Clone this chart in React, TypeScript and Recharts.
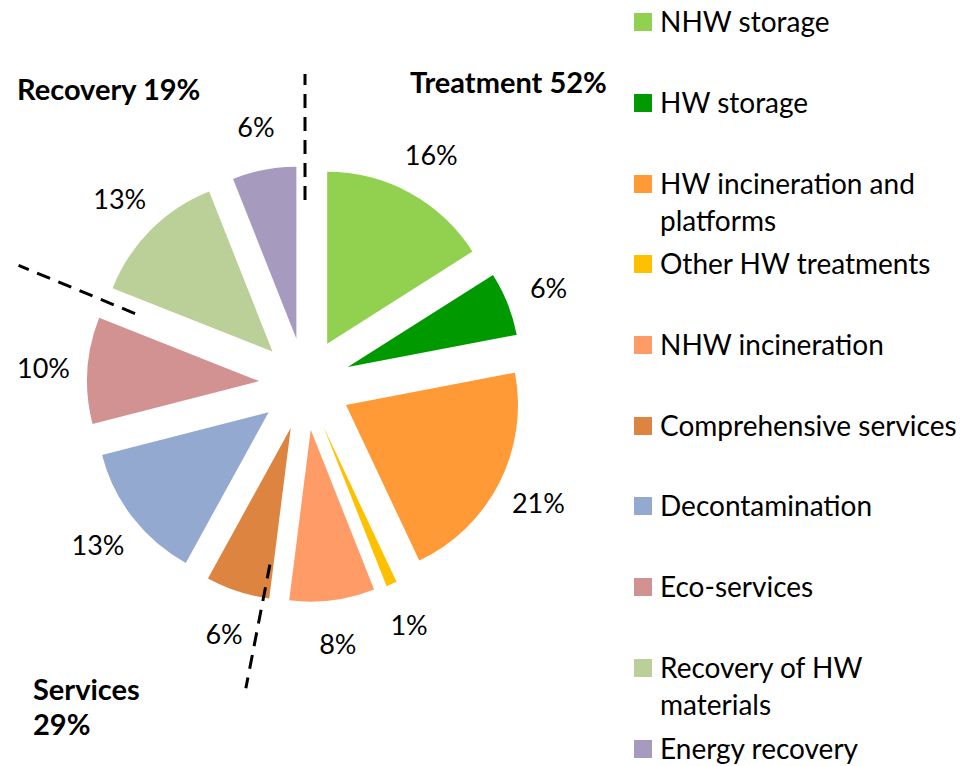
import { PieChart, Pie, Cell, Sector, Legend } from 'recharts'

const categories = [
  'NHW storage',
  'HW storage',
  'HW incineration and platforms',
  'Other HW treatments',
  'NHW incineration',
  'Comprehensive services',
  'Decontamination',
  'Eco-services',
  'Recovery of HW materials',
  'Energy recovery',
]
const shares = [16, 6, 21, 1, 8, 6, 13, 10, 13, 6]
const colors = [
  '#92D050', '#009A00', '#FF9A36', '#FFC000', '#FF9B66',
  '#DD8540', '#94A9CF', '#D29292', '#BBD098', '#A79ABF',
]

// groups of slices, by index of their first slice
const groupNames = ['Treatment', 'Services', 'Recovery']
const groupStarts = [0, 5, 8]
// the dashed separators were drawn by hand, slightly off the exact boundary
const separatorNudge = [0, -3.8, -0.9]

const data = categories.map((name, i) => ({ name, value: shares[i] }))

const FONT = 'Lato, "Noto Sans", sans-serif'
const RAD = Math.PI / 180
const EXPLODE = 46

function groupShare(g: number) {
  const end = g + 1 < groupStarts.length ? groupStarts[g + 1] : shares.length
  return shares.slice(groupStarts[g], end).reduce((a, b) => a + b, 0)
}

function renderSlice(props: any) {
  const { cx, cy, startAngle, endAngle, outerRadius, index, value } = props
  const mid = (startAngle + endAngle) / 2
  const ux = Math.cos(-mid * RAD)
  const uy = Math.sin(-mid * RAD)
  const lr = outerRadius + EXPLODE + 44
  const g = groupStarts.indexOf(index)
  const a = startAngle + (g >= 0 ? separatorNudge[g] : 0)
  const sx = Math.cos(-a * RAD)
  const sy = Math.sin(-a * RAD)
  return (
    <g>
      <Sector
        cx={cx + EXPLODE * ux}
        cy={cy + EXPLODE * uy}
        innerRadius={0}
        outerRadius={outerRadius}
        startAngle={startAngle}
        endAngle={endAngle}
        fill={colors[index]}
        stroke="none"
      />
      <text
        x={cx + lr * ux}
        y={cy + lr * uy}
        textAnchor="middle"
        dominantBaseline="central"
        fontFamily={FONT}
        fontSize={27}
        fill="#000"
      >
        {value}%
      </text>
      {g >= 0 && (
        <line
          x1={cx + 184 * sx} y1={cy + 184 * sy}
          x2={cx + 310 * sx} y2={cy + 310 * sy}
          stroke="#000" strokeWidth={3} strokeDasharray="14 9"
        />
      )}
    </g>
  )
}

function LegendList() {
  return (
    <div style={{ position: 'relative', width: 342, height: 766, fontFamily: FONT, fontSize: 28, lineHeight: '37.5px', color: '#000' }}>
      {categories.map((c, i) => (
        <div key={c} style={{ position: 'absolute', left: 0, top: 22 + i * 80.7 - 18.75, display: 'flex' }}>
          <span style={{ flex: 'none', width: 18, height: 18, marginTop: 10, marginRight: 8, background: colors[i] }} />
          <span style={{ width: 316 }}>{c}</span>
        </div>
      ))}
    </div>
  )
}

const groupLabel: React.CSSProperties = {
  position: 'absolute', fontFamily: FONT, fontWeight: 700, fontSize: 29, lineHeight: '35px', color: '#000',
}

export default function App() {
  return (
    <div style={{ position: 'relative', width: 976, height: 766, background: '#fff' }}>
      <style>{'body{margin:0}'}</style>
      <PieChart width={976} height={766} margin={{ top: 0, right: 0, bottom: 0, left: 0 }}>
        <Pie
          data={data}
          dataKey="value"
          nameKey="name"
          cx={305}
          cy={384}
          outerRadius={172}
          startAngle={90}
          endAngle={-270}
          stroke="none"
          label={renderSlice}
          labelLine={false}
          isAnimationActive={false}
        >
          {data.map((d) => (
            <Cell key={d.name} fill="transparent" />
          ))}
        </Pie>
        <Legend
          layout="vertical"
          align="right"
          verticalAlign="top"
          content={<LegendList />}
          wrapperStyle={{ left: 634, top: 0, width: 342, height: 766 }}
        />
      </PieChart>
      <div style={{ ...groupLabel, left: 410, top: 64 }}>{groupNames[0]} {groupShare(0)}%</div>
      <div style={{ ...groupLabel, left: 33, top: 671 }}>{groupNames[1]}<br />{groupShare(1)}%</div>
      <div style={{ ...groupLabel, left: 17, top: 71 }}>{groupNames[2]} {groupShare(2)}%</div>
    </div>
  )
}
